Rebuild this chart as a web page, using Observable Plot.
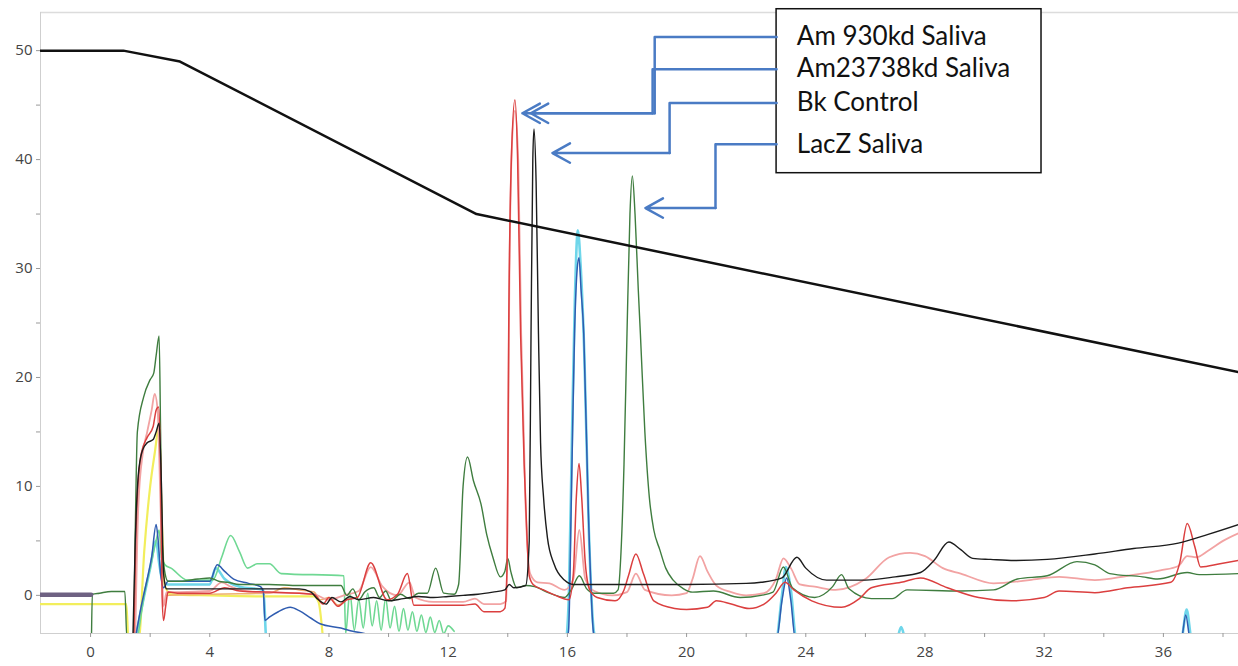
<!DOCTYPE html>
<html><head><meta charset="utf-8">
<script src="https://cdn.jsdelivr.net/npm/d3@7"></script>
<script src="https://cdn.jsdelivr.net/npm/@observablehq/plot@0.6"></script>
<style>
html,body{margin:0;padding:0;background:#fff;}
</style></head><body><div id="chart"></div>
<script>
// ---- axes ----
const xDomain = [-1.68, 38.52];
const yDomain = [-3.5, 53.5];
const xTicks = [0,2,4,6,8,10,12,14,16,18,20,22,24,26,28,30,32,34,36,38];
const xLabels = [0,4,8,12,16,20,24,28,32,36];
const yTicks = [0,5,10,15,20,25,30,35,40,45,50];
const yLabels = [0,10,20,30,40,50];

// ---- gradient (black thick) ----
const gradient = [[-1.68,50],[1.1,50],[3.0,49.0],[12.95,35.0],[38.52,20.5]];

// ---- traces [time, signal] ----
const purpleTrace = [[-1.68,0.05],[0.02,0.05]];

const yellowTrace = [[-1.68,-0.8],[1.2,-0.8],[1.27,-4],[1.62,-4],[1.8,4],[2.0,10],[2.15,13],[2.3,15.5],[2.38,8],[2.48,1],[2.7,0.1],[4,0],[6,-0.1],[7.5,-0.1],[7.65,-0.6],[7.8,-4]];

const orangeTrace = [[2.55,0.0],[3,0.05],[4,0.1],[5,0.15],[6,0.2],[6.5,0.7],[7,0.5],[7.5,0.3],[7.7,-0.4],[8.0,-0.2],[8.3,-0.9],[8.6,-0.3]];

const mintTrace = [[1.58,-4],[1.8,0],[2.0,2.5],[2.2,5],[2.3,6],[2.38,3.5],[2.5,2.8],[2.7,2.5],[3.25,1.4],[4.1,1.4],[4.4,3.5],[4.7,5.5],[5.0,4.0],[5.27,2.5],[5.6,2.9],[6.0,2.9],[6.4,2.0],[8.5,1.8],[8.56,-3.5],
 [8.7,0.3],[8.85,-3.2],[9.0,-0.4],[9.15,-3.0],[9.3,0.2],[9.45,-2.8],[9.6,-0.5],[9.75,-3.2],[9.9,-0.3],[10.05,-3.0],[10.2,-1.0],[10.35,-3.3],[10.5,-1.2],[10.65,-3.2],[10.8,-1.5],[10.95,-3.3],[11.1,-1.8],[11.25,-3.4],[11.4,-2.0],[11.55,-3.4],[11.7,-2.3],[11.85,-3.5],[12.0,-2.8],[12.2,-3.3]];

const cyanTrace = [[1.5,-4],[1.8,0],[2.0,2.5],[2.2,5.0],[2.3,3],[2.4,1.5],[2.6,1.0],[4.0,1.0],[4.2,2.5],[4.5,1.5],[5.0,0.8],[5.8,0.5],[5.9,-4],[15.95,-4],[16.05,0],[16.15,14],[16.25,27],[16.35,33.5],[16.45,30],[16.57,22],[16.72,6],[16.9,-3.5],[16.98,-4],[23.0,-4],[23.2,0],[23.33,2.6],[23.5,0.5],[23.68,-4],[27.05,-4],[27.2,-2.9],[27.35,-4],[36.6,-4],[36.78,-1.3],[36.95,-4],[38.52,-4]];

const pinkTrace = [[1.5,-4],[1.6,8],[1.75,13],[1.9,15],[2.05,17],[2.15,18.5],[2.25,17],[2.35,8],[2.45,-1],[2.55,0.3],[3,0.3],[4,0.4],[4.4,1.2],[4.7,0.8],[5.5,0.3],[7,0.2],[7.5,0.1],[8,-0.4],[8.5,0],[9.0,0.4],[9.4,2.6],[9.8,0.8],[10.3,0],[10.7,1.2],[10.9,-0.2],[11.5,-0.6],[12.5,-0.6],[12.9,-0.3],[13.2,-0.8],[13.75,-0.8],[13.95,-0.5],[14.0,10],[14.05,28],[14.15,42],[14.24,44.5],[14.35,40],[14.45,24],[14.6,8],[14.75,2],[15.0,1.2],[15.4,1.1],[15.9,0.5],[16.2,1.5],[16.4,6],[16.6,1.5],[16.9,0.4],[17.5,0],[18.0,0.3],[18.3,2.0],[18.6,0.5],[19.5,0],[20.0,0.2],[20.2,1.5],[20.45,3.6],[20.7,2.2],[21.0,0.9],[21.5,0.3],[22.0,0],[22.6,0.2],[23.0,1.5],[23.25,3.4],[23.5,2.5],[23.8,1.0],[24.3,0.8],[25,0.5],[26,1.5],[26.8,3.5],[27.5,3.9],[28.0,3.6],[28.6,2.5],[29.2,2.0],[30.3,1.1],[31.5,1.4],[32.5,1.7],[33.7,1.4],[34.8,1.8],[35.9,2.3],[36.5,2.7],[36.8,3.6],[37.1,3.5],[37.5,4.1],[38.0,5.0],[38.52,5.7]];

const blueTrace = [[1.5,-4],[1.7,-1],[1.9,1.5],[2.05,3.5],[2.2,6.5],[2.27,5],[2.35,2],[2.45,0.7],[2.6,1.3],[3,1.3],[4.0,1.3],[4.25,2.8],[4.5,2.2],[4.8,1.5],[5.3,1.1],[5.7,0.8],[5.8,0.3],[5.85,-2.3],[6.0,-2.0],[6.3,-1.5],[6.7,-1.1],[7.0,-1.4],[7.4,-2.1],[7.7,-2.6],[8.4,-3.0],[8.8,-3.3],[9.3,-3.6],[9.5,-4],[15.98,-4],[16.04,-3.2],[16.14,10],[16.24,24],[16.33,30],[16.39,31],[16.46,28],[16.55,24],[16.7,8],[16.88,-3.5],[16.95,-4],[23.02,-4],[23.2,-0.5],[23.36,1.6],[23.5,-0.5],[23.65,-4],[36.6,-4],[36.75,-1.8],[36.9,-4],[38.52,-4]];

const darkGreenTrace = [[0.03,-4],[0.06,0.1],[0.3,0.2],[0.7,0.35],[1.15,0.35],[1.22,-4],[1.44,-4],[1.5,6],[1.57,15],[1.78,18.2],[2.0,19.8],[2.12,20.4],[2.2,22],[2.3,23.8],[2.35,15],[2.4,5],[2.5,2],[2.6,1.3],[3,1.3],[3.6,1.5],[4.0,1.6],[4.3,1.3],[4.6,1.2],[5,1.0],[6,1.0],[7,0.9],[8.4,0.9],[8.6,0.0],[8.8,0.6],[9.0,-0.4],[9.2,0.3],[9.5,0.7],[9.7,-0.2],[9.9,0.4],[10.1,-0.5],[10.4,0.1],[10.7,-0.3],[11.0,0.2],[11.3,0.2],[11.58,2.5],[11.85,0.2],[12.2,0.1],[12.35,1],[12.5,10],[12.65,12.7],[12.85,10.5],[13.1,8.4],[13.3,5.5],[13.5,3.5],[13.75,1.7],[13.9,2.2],[14.0,3.4],[14.1,2.2],[14.3,0.7],[14.6,0.9],[14.9,0.8],[15.4,0.2],[15.9,-0.2],[16.15,0.6],[16.4,1.8],[16.65,0.6],[16.9,0.2],[17.55,0.2],[17.7,0.5],[17.8,4],[17.9,12],[18.0,24],[18.1,35],[18.18,38.5],[18.27,35],[18.38,28],[18.45,24],[18.6,15],[18.75,9],[18.9,6],[19.1,4.2],[19.3,2.5],[19.55,1.4],[19.9,0.6],[20.2,0.3],[20.9,0.4],[21.8,-0.2],[22.5,0.0],[22.9,0.3],[23.25,2.6],[23.55,0.7],[24.3,-0.2],[24.9,0.8],[25.2,1.9],[25.45,0.6],[26.2,-0.3],[26.9,-0.3],[27.4,0.5],[29.2,0.4],[30.3,0.5],[31.1,1.5],[32.1,1.8],[33.1,3.1],[33.7,2.8],[34.2,2.0],[35.3,1.7],[35.8,1.5],[36.8,2.1],[37.2,1.9],[38.52,2.0]];

const redTrace = [[1.45,-4],[1.55,8],[1.7,13],[1.9,14.5],[2.1,15.5],[2.2,17],[2.28,17.3],[2.35,12],[2.4,0],[2.45,-2.3],[2.52,-1],[2.6,0.3],[3,0.2],[4,0.2],[4.5,0.7],[5,0.4],[6,0.3],[7,0.2],[7.5,0.1],[7.8,-0.8],[8.0,-0.2],[8.3,-1],[8.6,-0.4],[8.95,-0.2],[9.4,3.0],[9.95,-0.4],[10.3,0.1],[10.63,2.0],[10.85,-0.9],[11.5,-0.9],[12.5,-0.9],[12.9,-0.8],[13.2,-1.5],[13.75,-1.5],[13.9,-1.2],[13.98,3],[14.03,24],[14.12,40],[14.24,45.5],[14.33,40],[14.43,24],[14.55,12],[14.65,5],[14.72,1.8],[14.85,1.0],[15.2,0.5],[15.6,0],[16.05,-0.4],[16.2,2],[16.3,9],[16.39,12.1],[16.48,9],[16.6,3],[16.75,0.5],[17.0,-0.2],[17.6,-0.5],[17.9,0.5],[18.05,1.8],[18.3,3.8],[18.55,2],[18.9,-0.5],[19.6,-1.2],[20.0,-1.3],[20.7,-1.1],[21.0,-0.5],[21.5,-0.8],[22.1,-1.2],[22.6,-0.8],[23.0,0.2],[23.3,1.2],[23.6,0.5],[24.2,-0.5],[25.2,-1.1],[25.8,-0.3],[26.2,0.7],[27.2,1.2],[27.85,1.6],[28.75,0.7],[29.8,-0.2],[30.9,-0.5],[32,-0.2],[32.5,0.4],[33.7,0.25],[34.8,0.7],[36.25,1.2],[36.55,3],[36.8,6.6],[37.05,4.5],[37.25,2.6],[37.9,2.9],[38.52,3.2]];

const blackTrace = [[1.42,-4],[1.5,5],[1.6,11],[1.74,13.3],[1.9,14],[2.1,14.3],[2.2,15],[2.3,15.8],[2.38,10],[2.45,2],[2.55,0.6],[2.8,0.6],[4,0.6],[5,0.6],[6,0.6],[7,0.6],[7.4,0.3],[7.6,-0.3],[7.9,-0.8],[8.1,-0.2],[8.4,-0.6],[8.7,-0.1],[9.0,-0.4],[9.5,-0.2],[10,-0.5],[10.5,-0.3],[11,-0.1],[11.5,-0.2],[12,-0.1],[12.5,0],[13,0.1],[13.5,0.3],[13.9,0.5],[14.05,1.0],[14.2,0.7],[14.6,0.9],[14.72,5],[14.78,24],[14.84,40],[14.88,42.8],[14.95,38],[15.03,24],[15.1,14],[15.2,9],[15.33,5.3],[15.55,2.9],[15.9,1.4],[16.2,1.0],[17,1.0],[18,1.0],[20,1.0],[22,1.1],[22.5,1.2],[23.2,1.6],[23.7,3.5],[24.0,2.5],[24.7,1.4],[26,1.4],[27,1.7],[27.85,2.1],[28.3,3.2],[28.8,4.9],[29.2,4.2],[29.6,3.4],[30.2,3.3],[31,3.2],[32.1,3.3],[33.7,3.8],[35,4.3],[36.5,4.8],[37.5,5.6],[38.52,6.5]];

// ---- annotation (legend box with leader arrows) ----
const legendLabels = ["Am 930kd Saliva","Am23738kd Saliva","Bk Control","LacZ Saliva"];
const legendY = [51.25, 48.3, 45.2, 41.4];
const elbowX = [18.93, 18.86, 19.43, 20.97];
const targetY = [44.25, 44.25, 40.6, 35.55];
const tipX = [14.49, 14.77, 15.5, 18.62];
const boxX = [23.02, 31.91];
const boxY = [38.75, 53.8];
const labelX = 23.7;

const leaders = legendLabels.flatMap((name, i) => [
  {name, x: boxX[0], y: legendY[i]},
  {name, x: elbowX[i], y: legendY[i]},
  {name, x: elbowX[i], y: targetY[i]}
]);
const arrows = legendLabels.map((name, i) => ({name, x1: elbowX[i], x2: tipX[i], y: targetY[i]}));
const labels = legendLabels.map((name, i) => ({name, x: labelX, y: legendY[i]}));

const X = d => d[0], Y = d => d[1];
const tr = (data, stroke, strokeWidth, extra = {}) =>
  Plot.line(data, {x: X, y: Y, stroke, strokeWidth, curve: "monotone-x", clip: true, ...extra});

const chart = Plot.plot({
  width: 1238,
  height: 666,
  marginLeft: 40,
  marginRight: 0,
  marginTop: 12,
  marginBottom: 33,
  style: {fontFamily: "'Open Sans', sans-serif", fontSize: "15px", background: "#fff"},
  x: {domain: xDomain},
  y: {domain: yDomain},
  marks: [
    Plot.ruleY([yDomain[0]], {stroke: "#cfcfcf"}),
    Plot.ruleY([yDomain[1]], {stroke: "#dcdcdc", strokeWidth: 1.5}),
    Plot.ruleX([xDomain[0]], {stroke: "#cfcfcf"}),
    Plot.axisX({ticks: xTicks, tickSize: 4, tickPadding: 9, stroke: "#999", fill: "#444", label: null,
      tickFormat: d => xLabels.includes(d) ? String(d) : ""}),
    Plot.axisY({ticks: yTicks, tickSize: 4, tickPadding: 4, stroke: "#999", fill: "#444", label: null,
      tickFormat: d => yLabels.includes(d) ? String(d) : ""}),
    tr(cyanTrace, "#6fd6ea", 2.6),
    tr(yellowTrace, "#f2ee5c", 2.2),
    tr(mintTrace, "#6fd893", 1.6),
    tr(orangeTrace, "#eeb070", 1.6),
    tr(pinkTrace, "#f2a3a3", 1.8),
    tr(blueTrace, "#2f5cb0", 1.5),
    tr(darkGreenTrace, "#3f7d3f", 1.4),
    tr(redTrace, "#db3f3f", 1.5),
    tr(blackTrace, "#1c1c1c", 1.4),
    tr(purpleTrace, "#6e6182", 4.5),
    Plot.line(gradient, {x: X, y: Y, stroke: "#111", strokeWidth: 2.5, clip: true}),
    // annotation
    Plot.rect([{}], {x1: boxX[0], x2: boxX[1], y1: boxY[0], y2: boxY[1], fill: "#fff", stroke: "#111", strokeWidth: 1.5}),
    Plot.line(leaders, {x: "x", y: "y", z: "name", stroke: "#4a7bc4", strokeWidth: 2.5}),
    Plot.arrow(arrows, {x1: "x1", x2: "x2", y1: "y", y2: "y", stroke: "#4a7bc4", strokeWidth: 2.5, headLength: 12, headAngle: 58}),
    Plot.text(labels, {x: "x", y: "y", text: "name", textAnchor: "start", fontSize: 26, fontFamily: "Lato, 'Open Sans', sans-serif", fill: "#111"})
  ]
});
document.getElementById("chart").append(chart);
</script>
</body></html>
